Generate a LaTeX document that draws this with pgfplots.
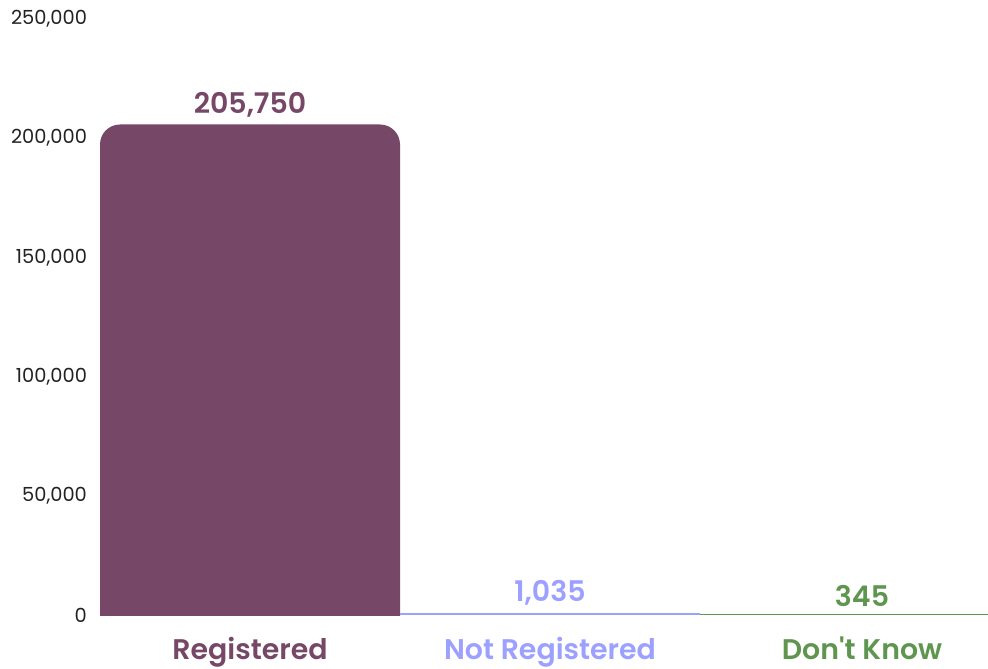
\documentclass[border=0pt]{standalone}
\usepackage{fontspec}
\setmainfont{Poppins}
\newfontfamily\labelfont{Poppins SemiBold}
\usepackage{pgfplots}
\pgfplotsset{compat=1.18}
\definecolor{creg}{HTML}{764766}
\definecolor{cnot}{HTML}{9CA0FF}
\definecolor{cdk}{HTML}{5E964F}
\definecolor{ctick}{HTML}{222222}
\begin{document}
\begin{tikzpicture}
\begin{axis}[
  at={(0,0)}, anchor=south west,
  scale only axis, width=444pt, height=298pt,
  xmin=-0.5, xmax=2.46, ymin=0, ymax=250000,
  axis line style={draw=none},
  major tick length=0pt,
  ytick={0,50000,100000,150000,200000,250000},
  scaled y ticks=false,
  /pgf/number format/.cd, fixed, 1000 sep={,}, assume math mode=true,
  /pgfplots/.cd,
  yticklabel style={font=\fontsize{9.7}{10}\selectfont, text=ctick, xshift=-3pt},
  xtick={0,1,2.04},
  xticklabels={\textcolor{creg}{Registered},\textcolor{cnot}{Not Registered},\textcolor{cdk}{Don't Know}},
  xticklabel style={font=\labelfont\fontsize{14.2}{15}\selectfont, yshift=-7.6pt},
  clip=true,
  nodes near coords={\pgfmathprintnumber[fixed,1000 sep={,},assume math mode=true]{\pgfplotspointmeta}},
  every node near coord/.append style={font=\labelfont\fontsize{14.2}{15}\selectfont, yshift=0pt},
]
% Registered bar with rounded top (bottom extends below axis and is clipped)
\addplot[fill=creg, draw=none, rounded corners=10pt, nodes near coords={}] coordinates {(-0.5,-30000) (-0.5,205750) (0.5,205750) (0.5,-30000)} -- cycle;
\addplot[draw=none, mark=none, text=creg] coordinates {(0,205750)};
\addplot[ybar, bar width=1, bar shift=0pt, fill=cnot, draw=none, text=cnot] coordinates {(1,1035)};
\addplot[ybar, bar width=1.08, bar shift=0pt, fill=cdk, draw=none, text=cdk] coordinates {(2.04,345)};
\end{axis}
\pgfresetboundingbox
\path (-50pt,-26.5pt) rectangle (444pt,307.5pt);
\end{tikzpicture}
\end{document}
